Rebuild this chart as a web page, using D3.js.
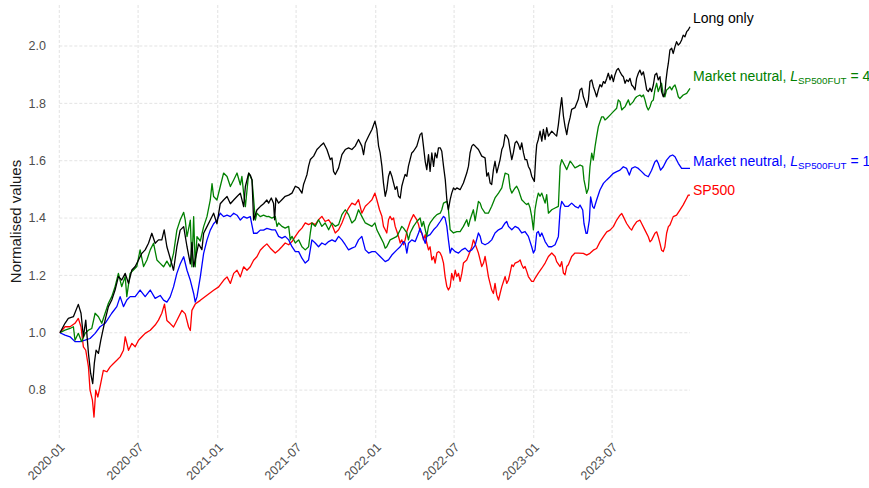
<!DOCTYPE html>
<html><head><meta charset="utf-8">
<script src="https://cdn.jsdelivr.net/npm/d3@7"></script>
<style>body{margin:0;background:#fff}svg{display:block}text{font-family:"Liberation Sans",Arial,sans-serif}</style>
</head><body><svg id="c" width="869" height="488"></svg>
<script>
// Data: [decimal year, normalised value]
const longOnly = [[2020.004,1.000],[2020.036,1.033],[2020.057,1.050],[2020.089,1.056],[2020.120,1.099],[2020.137,1.068],[2020.152,0.986],[2020.167,1.044],[2020.184,0.928],[2020.198,0.858],[2020.211,0.823],[2020.221,0.893],[2020.232,0.939],[2020.247,0.928],[2020.262,0.974],[2020.289,1.044],[2020.310,1.091],[2020.331,1.114],[2020.352,1.149],[2020.373,1.196],[2020.394,1.184],[2020.416,1.207],[2020.437,1.172],[2020.458,1.219],[2020.479,1.231],[2020.500,1.254],[2020.521,1.277],[2020.542,1.289],[2020.563,1.312],[2020.584,1.347],[2020.605,1.312],[2020.626,1.324],[2020.647,1.324],[2020.662,1.359],[2020.679,1.300],[2020.700,1.260],[2020.721,1.218],[2020.742,1.300],[2020.763,1.358],[2020.785,1.370],[2020.806,1.300],[2020.827,1.240],[2020.837,1.315],[2020.848,1.230],[2020.858,1.255],[2020.879,1.310],[2020.900,1.290],[2020.911,1.347],[2020.932,1.370],[2020.953,1.393],[2020.974,1.417],[2020.995,1.380],[2021.016,1.450],[2021.037,1.463],[2021.059,1.475],[2021.080,1.450],[2021.101,1.463],[2021.122,1.475],[2021.143,1.487],[2021.164,1.440],[2021.175,1.510],[2021.196,1.557],[2021.206,1.550],[2021.217,1.533],[2021.227,1.393],[2021.248,1.428],[2021.269,1.440],[2021.290,1.450],[2021.311,1.463],[2021.322,1.452],[2021.339,1.470],[2021.353,1.452],[2021.360,1.394],[2021.368,1.470],[2021.385,1.452],[2021.406,1.464],[2021.427,1.476],[2021.449,1.480],[2021.470,1.487],[2021.491,1.511],[2021.512,1.505],[2021.533,1.487],[2021.543,1.517],[2021.554,1.534],[2021.565,1.552],[2021.575,1.581],[2021.586,1.604],[2021.607,1.616],[2021.628,1.639],[2021.649,1.651],[2021.670,1.662],[2021.691,1.639],[2021.712,1.604],[2021.723,1.610],[2021.733,1.563],[2021.744,1.552],[2021.765,1.575],[2021.786,1.621],[2021.807,1.639],[2021.828,1.645],[2021.849,1.639],[2021.870,1.651],[2021.891,1.674],[2021.912,1.651],[2021.923,1.621],[2021.934,1.662],[2021.955,1.686],[2021.976,1.709],[2021.995,1.738],[2022.007,1.709],[2022.018,1.651],[2022.028,1.627],[2022.039,1.581],[2022.049,1.522],[2022.060,1.476],[2022.070,1.499],[2022.081,1.546],[2022.091,1.563],[2022.102,1.546],[2022.113,1.522],[2022.123,1.500],[2022.134,1.510],[2022.144,1.476],[2022.155,1.470],[2022.165,1.511],[2022.176,1.534],[2022.186,1.552],[2022.197,1.546],[2022.207,1.581],[2022.228,1.627],[2022.239,1.633],[2022.260,1.651],[2022.281,1.691],[2022.292,1.697],[2022.302,1.651],[2022.313,1.598],[2022.323,1.569],[2022.334,1.621],[2022.344,1.563],[2022.355,1.627],[2022.366,1.580],[2022.376,1.627],[2022.387,1.610],[2022.397,1.645],[2022.408,1.645],[2022.418,1.633],[2022.429,1.581],[2022.440,1.534],[2022.450,1.464],[2022.460,1.429],[2022.471,1.464],[2022.481,1.487],[2022.492,1.505],[2022.502,1.499],[2022.513,1.505],[2022.534,1.499],[2022.555,1.522],[2022.576,1.557],[2022.587,1.581],[2022.597,1.627],[2022.608,1.651],[2022.618,1.657],[2022.629,1.651],[2022.650,1.639],[2022.671,1.616],[2022.692,1.610],[2022.703,1.546],[2022.713,1.558],[2022.724,1.522],[2022.734,1.517],[2022.745,1.569],[2022.755,1.598],[2022.766,1.558],[2022.777,1.581],[2022.787,1.604],[2022.798,1.639],[2022.808,1.651],[2022.819,1.691],[2022.829,1.686],[2022.840,1.674],[2022.850,1.639],[2022.861,1.604],[2022.871,1.627],[2022.882,1.662],[2022.892,1.668],[2022.903,1.657],[2022.914,1.639],[2022.924,1.662],[2022.935,1.627],[2022.945,1.604],[2022.956,1.604],[2022.966,1.580],[2022.977,1.569],[2022.987,1.546],[2022.998,1.534],[2023.004,1.528],[2023.013,1.616],[2023.019,1.656],[2023.029,1.674],[2023.040,1.703],[2023.051,1.668],[2023.061,1.709],[2023.072,1.674],[2023.082,1.715],[2023.093,1.686],[2023.114,1.703],[2023.135,1.691],[2023.145,1.686],[2023.156,1.726],[2023.167,1.779],[2023.177,1.820],[2023.188,1.755],[2023.198,1.720],[2023.209,1.691],[2023.219,1.726],[2023.230,1.750],[2023.240,1.779],[2023.261,1.785],[2023.282,1.814],[2023.293,1.847],[2023.304,1.853],[2023.314,1.823],[2023.325,1.806],[2023.335,1.786],[2023.346,1.812],[2023.356,1.876],[2023.367,1.882],[2023.377,1.858],[2023.388,1.841],[2023.398,1.823],[2023.409,1.847],[2023.419,1.865],[2023.430,1.858],[2023.441,1.876],[2023.451,1.870],[2023.462,1.887],[2023.472,1.905],[2023.483,1.882],[2023.493,1.899],[2023.504,1.876],[2023.514,1.899],[2023.525,1.916],[2023.535,1.922],[2023.546,1.910],[2023.557,1.899],[2023.567,1.893],[2023.578,1.870],[2023.588,1.882],[2023.599,1.876],[2023.609,1.887],[2023.620,1.864],[2023.630,1.858],[2023.641,1.847],[2023.651,1.887],[2023.662,1.905],[2023.672,1.916],[2023.683,1.899],[2023.694,1.910],[2023.704,1.882],[2023.715,1.847],[2023.725,1.841],[2023.736,1.853],[2023.746,1.841],[2023.757,1.864],[2023.767,1.899],[2023.778,1.905],[2023.788,1.882],[2023.799,1.893],[2023.809,1.841],[2023.820,1.823],[2023.830,1.835],[2023.837,1.880],[2023.845,1.916],[2023.852,1.940],[2023.862,1.986],[2023.873,1.992],[2023.883,1.974],[2023.894,1.998],[2023.904,2.015],[2023.915,2.003],[2023.925,2.009],[2023.936,2.021],[2023.946,2.038],[2023.957,2.032],[2023.968,2.050],[2023.978,2.056],[2023.989,2.067]];

const marketNeutral4 = [[2020.004,1.000],[2020.036,1.009],[2020.068,1.015],[2020.089,1.021],[2020.099,0.974],[2020.120,0.998],[2020.141,0.969],[2020.163,0.998],[2020.184,1.009],[2020.205,1.015],[2020.226,1.068],[2020.247,1.056],[2020.268,1.033],[2020.289,1.068],[2020.310,1.103],[2020.331,1.126],[2020.352,1.161],[2020.373,1.207],[2020.394,1.161],[2020.416,1.196],[2020.426,1.126],[2020.447,1.207],[2020.468,1.219],[2020.489,1.231],[2020.510,1.289],[2020.532,1.231],[2020.553,1.254],[2020.574,1.289],[2020.595,1.312],[2020.616,1.254],[2020.637,1.242],[2020.658,1.230],[2020.679,1.250],[2020.700,1.230],[2020.721,1.277],[2020.742,1.358],[2020.763,1.393],[2020.785,1.420],[2020.795,1.393],[2020.806,1.335],[2020.827,1.393],[2020.837,1.230],[2020.848,1.405],[2020.858,1.230],[2020.869,1.335],[2020.890,1.320],[2020.911,1.370],[2020.932,1.405],[2020.953,1.463],[2020.964,1.520],[2020.974,1.475],[2020.995,1.463],[2021.016,1.510],[2021.037,1.557],[2021.059,1.545],[2021.080,1.510],[2021.101,1.533],[2021.122,1.557],[2021.143,1.516],[2021.153,1.545],[2021.164,1.487],[2021.175,1.440],[2021.196,1.557],[2021.217,1.533],[2021.238,1.393],[2021.248,1.417],[2021.269,1.405],[2021.290,1.410],[2021.311,1.405],[2021.322,1.406],[2021.343,1.400],[2021.364,1.406],[2021.375,1.371],[2021.385,1.383],[2021.406,1.371],[2021.427,1.365],[2021.449,1.371],[2021.459,1.324],[2021.470,1.336],[2021.491,1.313],[2021.512,1.324],[2021.533,1.300],[2021.554,1.289],[2021.575,1.300],[2021.586,1.348],[2021.596,1.383],[2021.617,1.371],[2021.638,1.394],[2021.659,1.371],[2021.680,1.383],[2021.702,1.359],[2021.723,1.383],[2021.744,1.371],[2021.765,1.377],[2021.786,1.412],[2021.807,1.429],[2021.828,1.412],[2021.849,1.383],[2021.870,1.394],[2021.891,1.429],[2021.912,1.406],[2021.934,1.383],[2021.955,1.377],[2021.976,1.371],[2021.995,1.383],[2022.007,1.359],[2022.028,1.336],[2022.049,1.313],[2022.060,1.295],[2022.070,1.300],[2022.091,1.324],[2022.113,1.330],[2022.134,1.336],[2022.155,1.359],[2022.165,1.371],[2022.176,1.365],[2022.197,1.348],[2022.207,1.324],[2022.218,1.348],[2022.239,1.371],[2022.260,1.388],[2022.281,1.400],[2022.292,1.371],[2022.302,1.388],[2022.323,1.336],[2022.334,1.371],[2022.344,1.383],[2022.366,1.400],[2022.387,1.412],[2022.408,1.417],[2022.418,1.429],[2022.429,1.452],[2022.450,1.458],[2022.460,1.429],[2022.471,1.359],[2022.492,1.348],[2022.513,1.353],[2022.534,1.353],[2022.555,1.371],[2022.576,1.394],[2022.587,1.371],[2022.597,1.394],[2022.618,1.429],[2022.629,1.390],[2022.650,1.458],[2022.661,1.452],[2022.671,1.435],[2022.692,1.417],[2022.713,1.417],[2022.734,1.441],[2022.755,1.470],[2022.777,1.487],[2022.798,1.505],[2022.819,1.557],[2022.840,1.552],[2022.850,1.505],[2022.861,1.487],[2022.882,1.505],[2022.892,1.511],[2022.903,1.499],[2022.924,1.464],[2022.945,1.452],[2022.956,1.447],[2022.966,1.452],[2022.977,1.435],[2022.987,1.406],[2022.998,1.359],[2023.008,1.429],[2023.019,1.464],[2023.029,1.487],[2023.040,1.476],[2023.051,1.487],[2023.061,1.470],[2023.072,1.452],[2023.082,1.482],[2023.093,1.417],[2023.114,1.429],[2023.135,1.435],[2023.156,1.441],[2023.167,1.581],[2023.177,1.604],[2023.188,1.592],[2023.209,1.569],[2023.230,1.598],[2023.240,1.592],[2023.261,1.575],[2023.282,1.581],[2023.293,1.585],[2023.310,1.580],[2023.318,1.533],[2023.327,1.509],[2023.335,1.486],[2023.346,1.503],[2023.356,1.579],[2023.367,1.626],[2023.377,1.602],[2023.388,1.649],[2023.398,1.684],[2023.409,1.719],[2023.419,1.736],[2023.430,1.753],[2023.441,1.753],[2023.451,1.742],[2023.462,1.747],[2023.483,1.759],[2023.504,1.771],[2023.525,1.783],[2023.535,1.812],[2023.546,1.806],[2023.557,1.777],[2023.567,1.783],[2023.578,1.788],[2023.588,1.800],[2023.599,1.812],[2023.609,1.794],[2023.620,1.800],[2023.630,1.806],[2023.641,1.817],[2023.651,1.823],[2023.672,1.829],[2023.683,1.823],[2023.694,1.829],[2023.704,1.812],[2023.715,1.788],[2023.725,1.777],[2023.736,1.788],[2023.746,1.806],[2023.757,1.812],[2023.767,1.847],[2023.778,1.870],[2023.788,1.841],[2023.799,1.858],[2023.809,1.870],[2023.820,1.829],[2023.830,1.823],[2023.841,1.847],[2023.852,1.852],[2023.862,1.858],[2023.873,1.847],[2023.883,1.858],[2023.894,1.864],[2023.904,1.847],[2023.915,1.823],[2023.925,1.817],[2023.946,1.829],[2023.968,1.835],[2023.989,1.852]];

const marketNeutral1 = [[2020.004,1.000],[2020.036,0.992],[2020.068,0.986],[2020.099,0.969],[2020.131,0.969],[2020.163,0.974],[2020.194,0.980],[2020.226,0.998],[2020.257,1.021],[2020.289,1.033],[2020.331,1.068],[2020.363,1.091],[2020.384,1.126],[2020.405,1.091],[2020.426,1.114],[2020.447,1.126],[2020.479,1.126],[2020.510,1.149],[2020.542,1.126],[2020.574,1.149],[2020.605,1.120],[2020.637,1.130],[2020.658,1.114],[2020.679,1.107],[2020.700,1.125],[2020.721,1.160],[2020.742,1.207],[2020.763,1.240],[2020.785,1.265],[2020.806,1.218],[2020.827,1.183],[2020.848,1.137],[2020.858,1.107],[2020.869,1.125],[2020.890,1.195],[2020.911,1.277],[2020.932,1.323],[2020.953,1.358],[2020.974,1.380],[2020.995,1.393],[2021.016,1.417],[2021.037,1.405],[2021.059,1.410],[2021.080,1.405],[2021.101,1.417],[2021.122,1.410],[2021.143,1.393],[2021.164,1.405],[2021.185,1.400],[2021.206,1.405],[2021.227,1.347],[2021.248,1.347],[2021.269,1.358],[2021.290,1.358],[2021.311,1.364],[2021.343,1.359],[2021.364,1.359],[2021.385,1.336],[2021.406,1.330],[2021.427,1.336],[2021.449,1.324],[2021.470,1.300],[2021.491,1.283],[2021.512,1.283],[2021.533,1.260],[2021.554,1.243],[2021.575,1.254],[2021.596,1.324],[2021.617,1.313],[2021.638,1.300],[2021.659,1.313],[2021.680,1.307],[2021.702,1.318],[2021.723,1.324],[2021.744,1.318],[2021.765,1.336],[2021.786,1.324],[2021.807,1.307],[2021.828,1.289],[2021.849,1.295],[2021.870,1.300],[2021.891,1.324],[2021.912,1.336],[2021.934,1.289],[2021.955,1.278],[2021.976,1.283],[2021.997,1.283],[2022.028,1.266],[2022.060,1.248],[2022.081,1.254],[2022.102,1.271],[2022.134,1.289],[2022.155,1.300],[2022.176,1.318],[2022.186,1.312],[2022.197,1.278],[2022.207,1.312],[2022.228,1.324],[2022.250,1.318],[2022.271,1.348],[2022.281,1.365],[2022.298,1.336],[2022.313,1.312],[2022.323,1.336],[2022.344,1.342],[2022.366,1.359],[2022.387,1.371],[2022.408,1.388],[2022.429,1.406],[2022.439,1.400],[2022.450,1.371],[2022.460,1.324],[2022.471,1.278],[2022.481,1.295],[2022.503,1.283],[2022.524,1.278],[2022.545,1.289],[2022.566,1.295],[2022.587,1.283],[2022.608,1.289],[2022.629,1.305],[2022.650,1.348],[2022.661,1.336],[2022.671,1.313],[2022.692,1.307],[2022.713,1.313],[2022.734,1.324],[2022.755,1.348],[2022.777,1.359],[2022.798,1.365],[2022.819,1.383],[2022.829,1.388],[2022.840,1.371],[2022.861,1.359],[2022.882,1.371],[2022.903,1.365],[2022.924,1.348],[2022.945,1.353],[2022.966,1.336],[2022.987,1.300],[2022.998,1.278],[2023.008,1.289],[2023.019,1.348],[2023.029,1.353],[2023.040,1.336],[2023.051,1.348],[2023.072,1.318],[2023.093,1.300],[2023.114,1.300],[2023.135,1.307],[2023.156,1.336],[2023.167,1.429],[2023.177,1.458],[2023.198,1.441],[2023.219,1.441],[2023.240,1.452],[2023.261,1.441],[2023.282,1.435],[2023.293,1.445],[2023.310,1.428],[2023.318,1.381],[2023.331,1.347],[2023.339,1.347],[2023.352,1.393],[2023.360,1.474],[2023.373,1.440],[2023.382,1.434],[2023.398,1.463],[2023.419,1.498],[2023.441,1.521],[2023.462,1.533],[2023.483,1.544],[2023.504,1.556],[2023.525,1.562],[2023.546,1.567],[2023.567,1.579],[2023.588,1.573],[2023.605,1.550],[2023.620,1.573],[2023.641,1.579],[2023.662,1.573],[2023.683,1.562],[2023.704,1.550],[2023.725,1.544],[2023.746,1.567],[2023.767,1.596],[2023.778,1.602],[2023.788,1.591],[2023.803,1.567],[2023.820,1.579],[2023.841,1.602],[2023.862,1.616],[2023.879,1.620],[2023.894,1.614],[2023.915,1.591],[2023.936,1.573],[2023.957,1.573],[2023.989,1.573]];

const sp500 = [[2020.004,1.000],[2020.036,1.021],[2020.068,1.021],[2020.099,1.033],[2020.120,1.050],[2020.137,1.021],[2020.152,0.951],[2020.167,0.939],[2020.184,0.881],[2020.194,0.800],[2020.209,0.765],[2020.219,0.706],[2020.230,0.800],[2020.243,0.776],[2020.257,0.811],[2020.278,0.869],[2020.300,0.864],[2020.321,0.881],[2020.342,0.893],[2020.363,0.904],[2020.384,0.916],[2020.405,0.939],[2020.416,0.986],[2020.437,0.939],[2020.458,0.963],[2020.479,0.951],[2020.500,0.974],[2020.521,0.986],[2020.542,0.998],[2020.574,1.009],[2020.605,1.027],[2020.626,1.044],[2020.647,1.068],[2020.664,1.100],[2020.679,1.043],[2020.700,1.032],[2020.721,1.020],[2020.742,1.043],[2020.774,1.078],[2020.795,1.066],[2020.816,1.020],[2020.827,1.008],[2020.837,1.078],[2020.858,1.100],[2020.890,1.113],[2020.932,1.131],[2020.974,1.148],[2021.006,1.160],[2021.037,1.183],[2021.059,1.195],[2021.080,1.172],[2021.101,1.207],[2021.122,1.218],[2021.143,1.195],[2021.164,1.230],[2021.185,1.218],[2021.206,1.230],[2021.227,1.253],[2021.248,1.265],[2021.269,1.288],[2021.290,1.300],[2021.311,1.310],[2021.333,1.295],[2021.364,1.278],[2021.385,1.288],[2021.406,1.300],[2021.427,1.313],[2021.449,1.307],[2021.470,1.318],[2021.491,1.336],[2021.512,1.353],[2021.533,1.365],[2021.554,1.383],[2021.575,1.377],[2021.596,1.383],[2021.617,1.377],[2021.638,1.394],[2021.659,1.406],[2021.680,1.388],[2021.702,1.394],[2021.723,1.377],[2021.744,1.348],[2021.765,1.359],[2021.786,1.383],[2021.807,1.412],[2021.828,1.435],[2021.849,1.452],[2021.870,1.446],[2021.891,1.464],[2021.912,1.417],[2021.934,1.441],[2021.955,1.452],[2021.976,1.464],[2021.995,1.487],[2022.007,1.464],[2022.024,1.429],[2022.039,1.406],[2022.049,1.371],[2022.060,1.359],[2022.070,1.348],[2022.081,1.394],[2022.091,1.406],[2022.102,1.394],[2022.113,1.400],[2022.123,1.371],[2022.134,1.353],[2022.144,1.336],[2022.155,1.313],[2022.165,1.324],[2022.176,1.307],[2022.186,1.324],[2022.197,1.353],[2022.218,1.388],[2022.239,1.412],[2022.260,1.394],[2022.271,1.377],[2022.281,1.353],[2022.292,1.348],[2022.302,1.324],[2022.313,1.342],[2022.323,1.313],[2022.334,1.289],[2022.344,1.300],[2022.355,1.254],[2022.366,1.266],[2022.376,1.243],[2022.387,1.278],[2022.397,1.283],[2022.408,1.278],[2022.418,1.266],[2022.429,1.243],[2022.439,1.196],[2022.450,1.161],[2022.460,1.149],[2022.471,1.161],[2022.481,1.207],[2022.492,1.184],[2022.503,1.218],[2022.513,1.196],[2022.524,1.207],[2022.534,1.179],[2022.545,1.207],[2022.555,1.243],[2022.576,1.254],[2022.597,1.283],[2022.608,1.300],[2022.618,1.324],[2022.629,1.310],[2022.650,1.278],[2022.671,1.231],[2022.682,1.243],[2022.692,1.266],[2022.703,1.231],[2022.713,1.196],[2022.734,1.149],[2022.745,1.137],[2022.755,1.172],[2022.766,1.132],[2022.777,1.114],[2022.787,1.137],[2022.798,1.161],[2022.819,1.196],[2022.829,1.172],[2022.840,1.184],[2022.850,1.208],[2022.861,1.237],[2022.871,1.231],[2022.882,1.243],[2022.903,1.248],[2022.914,1.254],[2022.924,1.237],[2022.935,1.225],[2022.945,1.231],[2022.956,1.214],[2022.966,1.196],[2022.987,1.179],[2022.998,1.179],[2023.008,1.190],[2023.029,1.208],[2023.051,1.225],[2023.072,1.243],[2023.093,1.266],[2023.114,1.278],[2023.135,1.266],[2023.145,1.248],[2023.167,1.231],[2023.177,1.248],[2023.188,1.208],[2023.198,1.202],[2023.209,1.231],[2023.219,1.237],[2023.240,1.266],[2023.261,1.278],[2023.282,1.278],[2023.314,1.277],[2023.335,1.271],[2023.356,1.277],[2023.377,1.288],[2023.398,1.294],[2023.419,1.317],[2023.441,1.335],[2023.462,1.352],[2023.483,1.358],[2023.504,1.370],[2023.525,1.393],[2023.546,1.410],[2023.557,1.416],[2023.567,1.405],[2023.588,1.381],[2023.609,1.364],[2023.620,1.358],[2023.630,1.370],[2023.651,1.387],[2023.672,1.393],[2023.683,1.381],[2023.704,1.358],[2023.725,1.335],[2023.736,1.317],[2023.746,1.323],[2023.767,1.347],[2023.778,1.352],[2023.788,1.335],[2023.799,1.312],[2023.809,1.288],[2023.820,1.283],[2023.830,1.300],[2023.841,1.347],[2023.852,1.370],[2023.862,1.376],[2023.883,1.405],[2023.904,1.410],[2023.925,1.428],[2023.946,1.446],[2023.968,1.469],[2023.978,1.480],[2023.989,1.480]];

const yTicks = [0.8, 1.0, 1.2, 1.4, 1.6, 1.8, 2.0];
const xTickLabels = ["2020-01","2020-07","2021-01","2021-07","2022-01","2022-07","2023-01","2023-07"];
const seriesNames = ["Long only", "Market neutral", "Market neutral", "SP500"];
const leverage = [null, "4", "1", null];

(function () {
// Presentation
const series = [
  {data: longOnly, color: "#000000", dy: -4},
  {data: marketNeutral4, color: "#008000", dy: -7},
  {data: marketNeutral1, color: "#0000FF", dy: -2},
  {data: sp500, color: "#FF0000", dy: 0}
];
series.forEach((s, i) => { s.name = seriesNames[i]; s.lev = leverage[i]; });

function yearToDate(t) {
  const yr = Math.floor(t);
  const a = Date.UTC(yr, 0, 1), b = Date.UTC(yr + 1, 0, 1);
  return new Date(a + (t - yr) * (b - a));
}

const svg = d3.select("#c");
const pL = 59.3, pR = 690, pT = 5, pB = 438;
const lastT = d3.max(series, s => s.data[s.data.length - 1][0]);
const x = d3.scaleUtc().domain([new Date(Date.UTC(2020, 0, 1)), yearToDate(lastT)]).range([pL, pR]);
const y = d3.scaleLinear().domain([0.633, 2.143]).range([pB, pT]);

const tickDates = xTickLabels.map(s => d3.utcParse("%Y-%m")(s));

// grid
const grid = svg.append("g").attr("stroke", "#dcdcdc").attr("stroke-width", 0.8).attr("stroke-dasharray", "3,2");
grid.selectAll("line.h").data(yTicks).join("line").attr("class", "h")
  .attr("x1", pL).attr("x2", pR).attr("y1", d => y(d)).attr("y2", d => y(d));
grid.selectAll("line.v").data(tickDates).join("line").attr("class", "v")
  .attr("x1", d => x(d)).attr("x2", d => x(d)).attr("y1", pT).attr("y2", pB);

// y axis labels
svg.append("g").selectAll("text").data(yTicks).join("text")
  .attr("x", 46).attr("y", d => y(d)).attr("dy", "0.35em")
  .attr("text-anchor", "end").attr("font-size", 12.5).attr("fill", "#4d4d4d")
  .text(d => d3.format(".1f")(d));

// x axis labels
svg.append("g").selectAll("text").data(tickDates).join("text")
  .attr("transform", d => `translate(${x(d)},${pB + 4}) rotate(-45)`)
  .attr("text-anchor", "end").attr("dy", "0.7em").attr("font-size", 12.5).attr("fill", "#4d4d4d")
  .text((d, i) => xTickLabels[i]);

// y title
svg.append("text").attr("transform", `translate(21,${(pT + pB) / 2}) rotate(-90)`)
  .attr("text-anchor", "middle").attr("font-size", 15).attr("fill", "#1a1a1a")
  .text("Normalised values");

// lines
const line = d3.line().x(d => x(yearToDate(d[0]))).y(d => y(d[1]));
svg.append("g").selectAll("path").data(series.slice().reverse()).join("path")
  .attr("fill", "none").attr("stroke", d => d.color).attr("stroke-width", 1.3)
  .attr("stroke-linejoin", "round").attr("d", d => line(d.data));

// end labels
const lab = svg.append("g").selectAll("text").data(series).join("text")
  .attr("x", pR + 3).attr("y", d => y(d.data[d.data.length - 1][1]) + d.dy)
  .attr("font-size", 14).attr("fill", d => d.color);
lab.each(function (d) {
  const t = d3.select(this);
  if (d.lev === null) { t.text(d.name); return; }
  t.append("tspan").text(d.name + ", ");
  t.append("tspan").attr("font-style", "italic").text("L");
  t.append("tspan").attr("font-size", 9.8).attr("dy", 3).text("SP500FUT");
  t.append("tspan").attr("dy", -3).text(" = " + d.lev);
});
})();
</script></body></html>
